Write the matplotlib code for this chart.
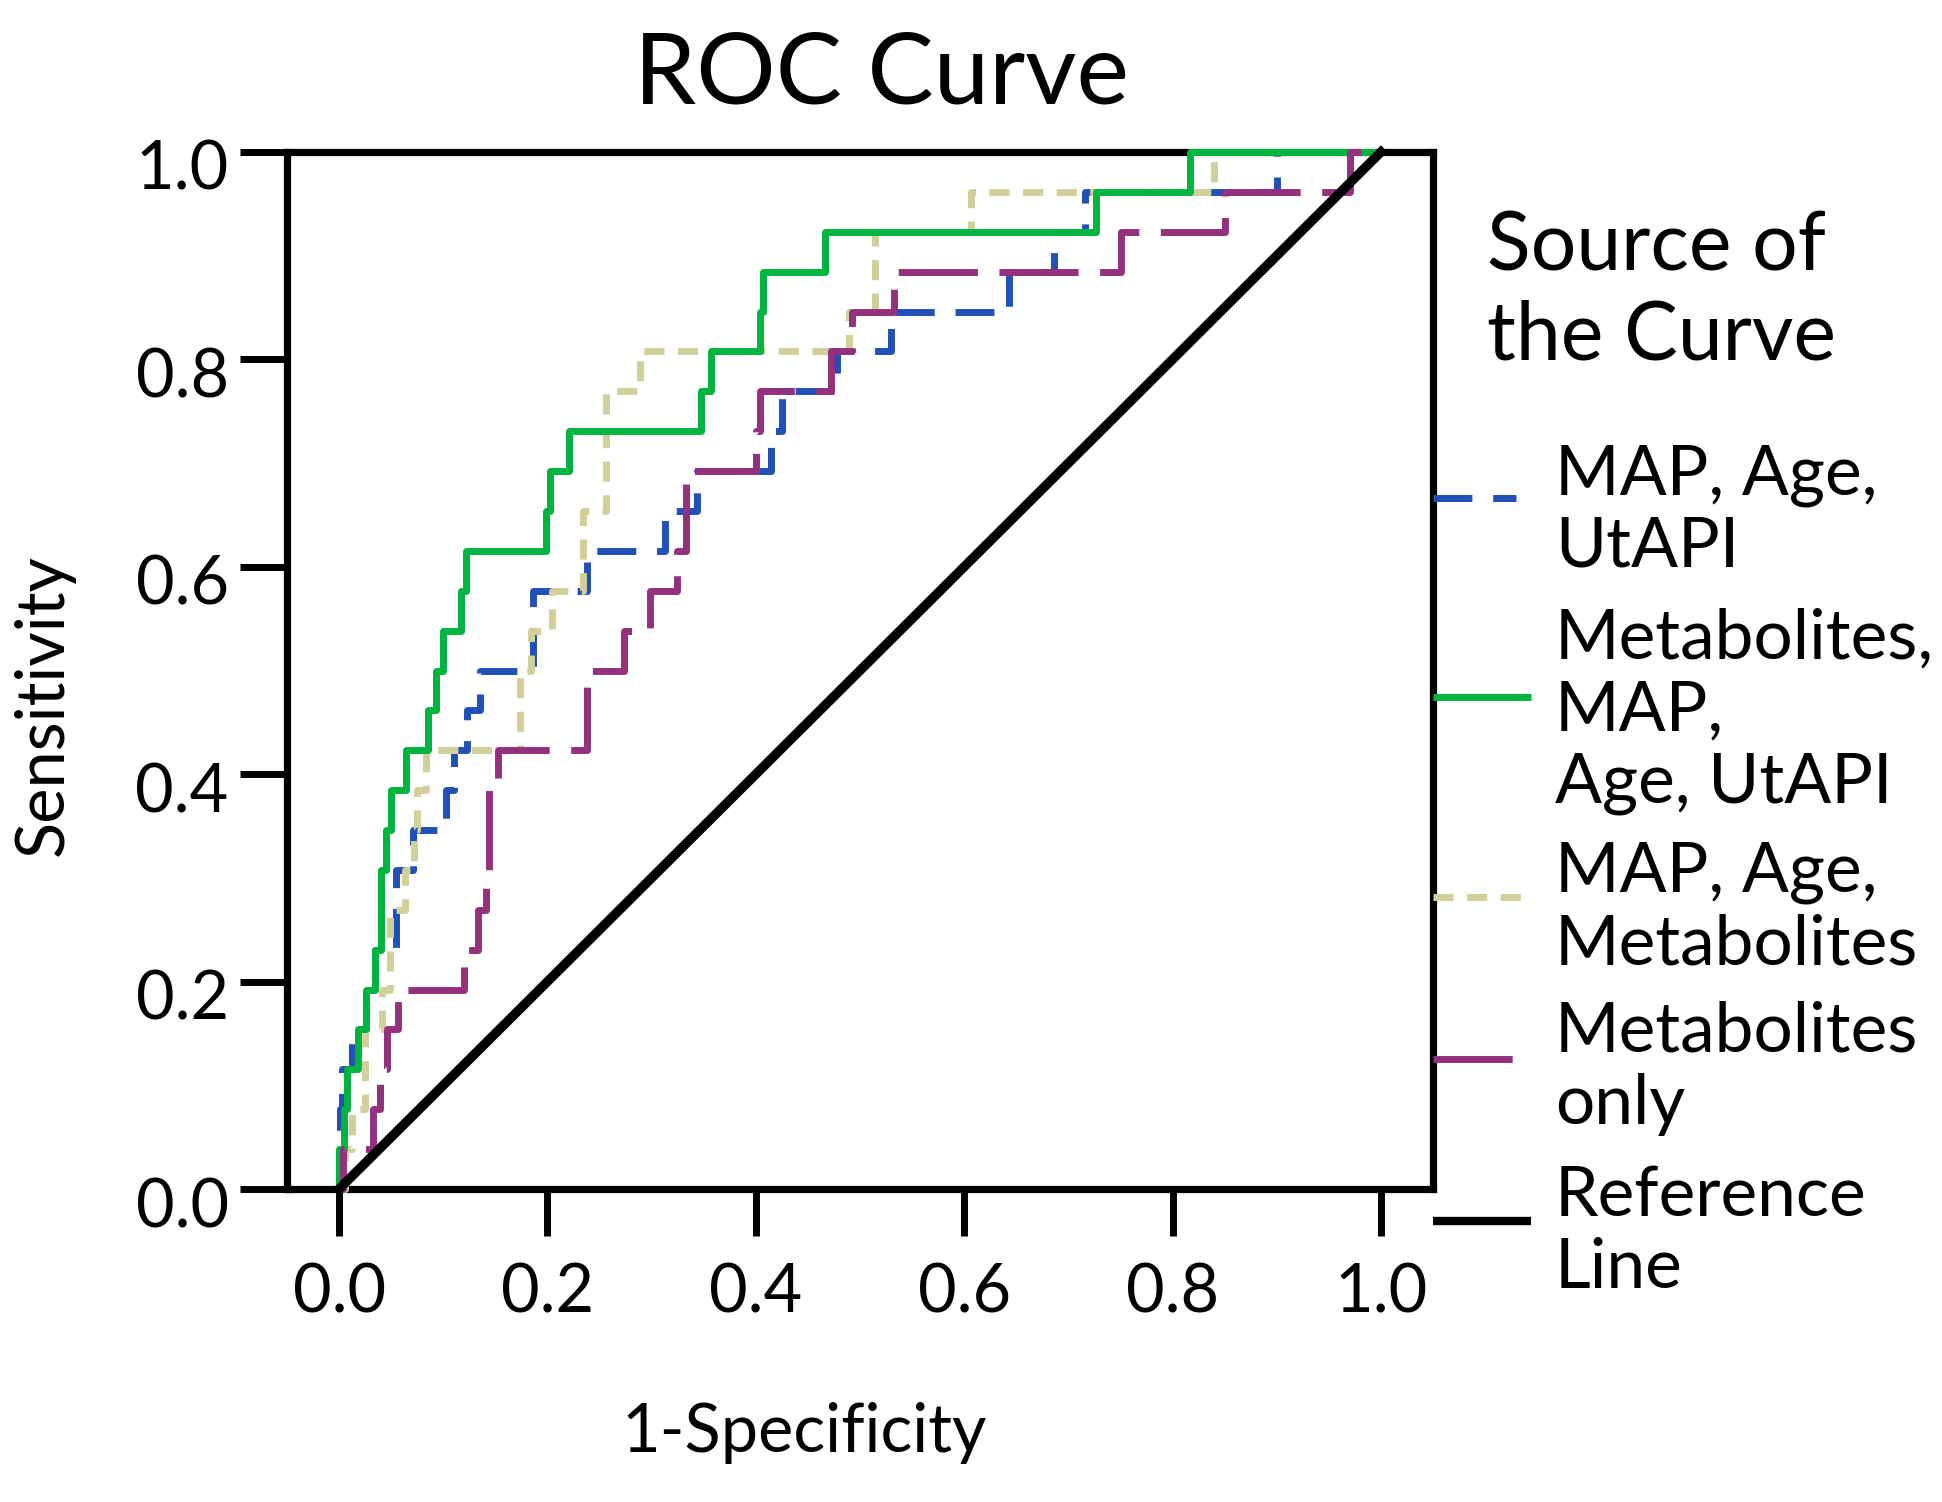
import matplotlib
matplotlib.use("Agg")
import matplotlib.pyplot as plt
from matplotlib.lines import Line2D
from matplotlib.transforms import ScaledTranslation

plt.rcParams["font.family"] = ["Lato", "DejaVu Sans"]
plt.rcParams["lines.scale_dashes"] = False

# number of positive cases, sensitivity steps are k / 26
N_POS = 26

# 1-specificity at which each curve climbs to the next true-positive count
fpr_map_age_utapi = [0, 0, 0.001, 0.003, 0.012, 0.026, 0.034, 0.055, 0.055, 0.071, 0.103, 0.110, 0.1225,
                     0.135, 0.1865, 0.1865, 0.238, 0.3125, 0.344, 0.4145, 0.4255, 0.478, 0.530, 0.643,
                     0.686, 0.716, 0.900, 1.0]
tp_map_age_utapi = [0, 1, 2, 3, 4, 5, 6, 7, 8, 9, 10, 11, 12, 13, 14, 15, 16, 17, 18, 19, 20, 21, 22, 23,
                    24, 25, 26, 26]

fpr_all = [0, 0, 0.005, 0.008, 0.018, 0.026, 0.034, 0.040, 0.040, 0.045, 0.050, 0.064, 0.085, 0.093,
           0.100, 0.117, 0.122, 0.199, 0.202, 0.221, 0.347, 0.357, 0.404, 0.407, 0.466, 0.727, 0.817, 1.0]
tp_all = [0, 1, 2, 3, 4, 5, 6, 7, 8, 9, 10, 11, 12, 13, 14, 15, 16, 17, 18, 19, 20, 21, 22, 23, 24, 25,
          26, 26]

fpr_map_age_metab = [0, 0.006, 0.012, 0.025, 0.025, 0.041, 0.049, 0.049, 0.063, 0.072, 0.0745, 0.0835,
                     0.174, 0.174, 0.184, 0.204, 0.2345, 0.2345, 0.256, 0.256, 0.256, 0.289, 0.489,
                     0.5145, 0.5145, 0.607, 0.840, 1.0]
tp_map_age_metab = [0, 1, 2, 3, 4, 5, 6, 7, 8, 9, 10, 11, 12, 13, 14, 15, 16, 17, 18, 19, 20, 21, 22, 23,
                    24, 25, 26, 26]

fpr_metab = [0, 0.004, 0.033, 0.039, 0.0457, 0.057, 0.120, 0.1330, 0.1407, 0.1443, 0.1443, 0.1530,
             0.238, 0.238, 0.2735, 0.2985, 0.324, 0.3327, 0.3327, 0.400, 0.4043, 0.4722, 0.492, 0.5325,
             0.751, 0.850, 0.970, 1.0]
tp_metab = [0, 1, 2, 3, 4, 5, 6, 7, 8, 9, 10, 11, 12, 13, 14, 15, 16, 17, 18, 19, 20, 21, 22, 23, 24, 25,
            26, 26]

ref_x = [0, 1]
ref_y = [0, 1]

labels = ["MAP, Age,\nUtAPI", "Metabolites,\nMAP,\nAge, UtAPI", "MAP, Age,\nMetabolites",
          "Metabolites\nonly", "Reference\nLine"]
colors = ["#2150B9", "#00B440", "#D1CF9A", "#93317F", "black"]
dash_styles = [(28, 15), None, (14.5, 9.7), (57, 15.5), None]
dash_offsets = [0, 0, 0, 24.6, 0]
ticks = [0.0, 0.2, 0.4, 0.6, 0.8, 1.0]

W, H = 1942, 1502
fig = plt.figure(figsize=(W / 100, H / 100), dpi=100)
ax = fig.add_axes([287 / W, 1 - 1189 / H, (1433 - 287) / W, (1189 - 152) / H])

curves = [(fpr_map_age_utapi, tp_map_age_utapi), (fpr_all, tp_all),
          (fpr_map_age_metab, tp_map_age_metab), (fpr_metab, tp_metab)]
# draw order as in the picture: blue, khaki, green, purple
order = [0, 2, 1, 3]
for z, i in enumerate(order):
    fpr, tp = curves[i]
    sens = [k / N_POS for k in tp]
    ls = "-" if dash_styles[i] is None else (dash_offsets[i], dash_styles[i])
    ax.plot(fpr, sens, drawstyle="steps-post", color=colors[i], lw=5.0, linestyle=ls,
            solid_capstyle="butt", dash_capstyle="butt", clip_on=False, zorder=3 + z)
ax.plot(ref_x, ref_y, color="black", lw=6.8, clip_on=False, zorder=8)

ax.set_xlim(-0.05, 1.05)
ax.set_ylim(0, 1)
ax.set_xticks(ticks)
ax.set_yticks(ticks)
ax.set_xticklabels([f"{t:.1f}" for t in ticks])
ax.set_yticklabels([f"{t:.1f}" for t in ticks])
ax.tick_params(direction="out", length=34, width=5.0, labelsize=48)
ax.tick_params(axis="x", pad=19)
ax.tick_params(axis="y", pad=8)
# y tick labels sit a little below their ticks
shift = ScaledTranslation(0, -13 / 100, fig.dpi_scale_trans)
for lbl in ax.get_yticklabels():
    lbl.set_transform(lbl.get_transform() + shift)
for s in ax.spines.values():
    s.set_linewidth(5.2)

ax.set_title("ROC Curve", fontsize=71.5, x=0.519, y=1.047, pad=0)
ax.set_xlabel("1-Specificity", fontsize=48)
ax.xaxis.set_label_coords(0.451, -0.254)
ax.xaxis.label.set_va("baseline")
ax.set_ylabel("Sensitivity", fontsize=48)
ax.yaxis.set_label_coords(-0.196, 0.467)
ax.yaxis.label.set_va("baseline")

# legend outside the axes, handles start at the right spine
fig.text(1487 / W, 1 - 360 / H, "Source of\nthe Curve", fontsize=58, va="baseline", linespacing=1.26)
handle_y = [498, 697, 897, 1059, 1221]
handle_len = [83, 98, 89, 83, 98]
last_baseline = [567, 803, 964, 1124, 1288]
for i in range(5):
    ls = "-" if dash_styles[i] is None else (0, dash_styles[i])
    h = Line2D([1433 / W, (1433 + handle_len[i]) / W], [1 - handle_y[i] / H] * 2,
               transform=fig.transFigure, color=colors[i], lw=5.0 if i < 4 else 6.0,
               linestyle=ls, solid_capstyle="butt", dash_capstyle="butt")
    fig.add_artist(h)
    fig.text(1555 / W, 1 - last_baseline[i] / H, labels[i], fontsize=50, va="baseline",
             linespacing=1.18)

fig.savefig("out.png", dpi=100)
